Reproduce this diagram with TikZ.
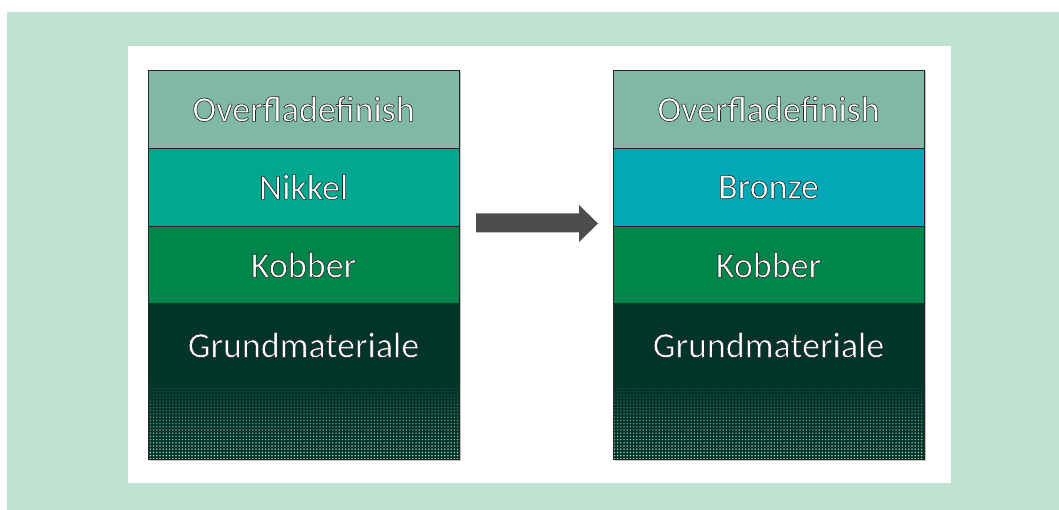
\documentclass[tikz,border=0pt]{standalone}
\usepackage{fontspec}
\setmainfont{Carlito}
\usetikzlibrary{patterns.meta,fadings}
\definecolor{bgmint}{HTML}{BFE1D1}
\definecolor{cOver}{HTML}{7FB8A4}
\definecolor{cNik}{HTML}{00A88F}
\definecolor{cBro}{HTML}{00A9B5}
\definecolor{cKob}{HTML}{00854A}
\definecolor{cGrund}{HTML}{02352A}
\definecolor{cDot}{HTML}{C4E8D6}
\definecolor{cArrow}{HTML}{4D4D4D}
\tikzset{
  layer/.style={draw=black!85, line width=0.8pt},
  lbl/.style={font=\fontsize{36}{42}\selectfont, inner sep=0pt, anchor=center, text=white},
}
\newcommand{\outl}[1]{\special{pdf:literal direct 2 Tr 0.6 w 0.15 0.15 0.15 RG}#1\special{pdf:literal direct 0 Tr 0.4 w}}
\begin{document}
\begin{tikzpicture}[x=1pt,y=-1pt]
\useasboundingbox (0,0) rectangle (1059,510);
\fill[bgmint] (7,12) rectangle (1059,510);
\fill[white] (128,46) rectangle (951,483);
\foreach \x/\mid in {148/cNik,613/cBro}{
  \fill[black!25] (\x+1.5,71.5) rectangle (\x+312.5,460.5);
  \fill[cOver] (\x,70) rectangle (\x+311,148);
  \fill[\mid] (\x,148) rectangle (\x+311,226);
  \fill[cKob] (\x,226) rectangle (\x+311,303);
  \fill[cGrund] (\x,303) rectangle (\x+311,459);
  \fill[pattern={Dots[radius=0.8pt,distance=3.2pt]}, pattern color=cDot, path fading=north] (\x,380) rectangle (\x+311,459);
  \draw[layer] (\x,70) rectangle (\x+311,459);
  \draw[layer] (\x,148) -- (\x+311,148);
  \draw[layer] (\x,226) -- (\x+311,226);
  \draw[layer] (\x,303) -- (\x+311,303);
}
\node[lbl] (lo) at (303.5,109) {\outl{Overfladefinish}};
\node[lbl] (ln) at (303.5,187) {\outl{Nikkel}};
\node[lbl] (lk) at (303.5,265) {\outl{Kobber}};
\node[lbl] (lg) at (303.5,345) {\outl{Grundmateriale}};
\node[lbl] (ro) at (768.5,109) {\outl{Overfladefinish}};
\node[lbl] (rb) at (768.5,187) {\outl{Bronze}};
\node[lbl] (rk) at (768.5,265) {\outl{Kobber}};
\node[lbl] (rg) at (768.5,345) {\outl{Grundmateriale}};
\fill[cArrow] (476,213.5) -- (579,213.5) -- (579,205) -- (598,223.5) -- (579,242) -- (579,232.5) -- (476,232.5) -- cycle;
\end{tikzpicture}
\end{document}
